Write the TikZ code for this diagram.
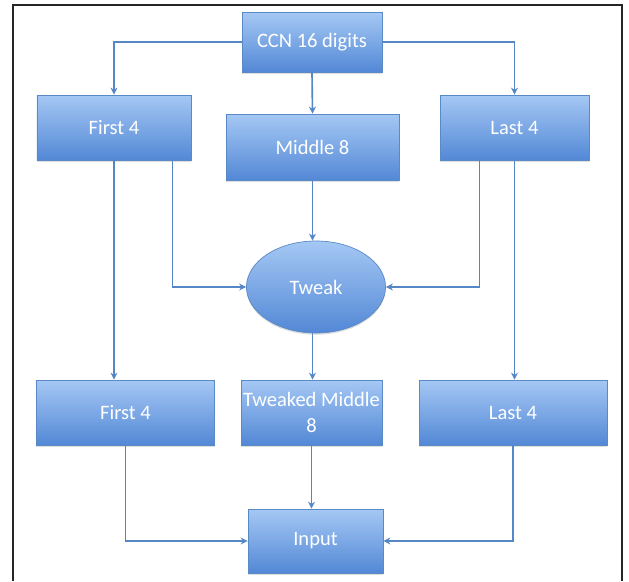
\documentclass[tikz,border=0pt]{standalone}
\usepackage{fontspec}
\setmainfont{Carlito}
\usetikzlibrary{shapes.geometric,arrows.meta,shadows}
\definecolor{boxtop}{HTML}{A5C8F4}
\definecolor{boxbot}{HTML}{5388D6}
\definecolor{boxline}{HTML}{5A8AC6}
\definecolor{arr}{HTML}{5586C6}
\begin{document}
\begin{tikzpicture}[x=0.03cm,y=-0.03cm,
  blk/.style={draw=boxline, line width=0.6pt, top color=boxtop, bottom color=boxbot,
    text=white, font=\fontsize{17.5}{22}\selectfont, align=center, inner sep=0pt,
    drop shadow={shadow xshift=0pt, shadow yshift=-1.5pt, opacity=0.25}},
  conn/.style={draw=arr, line width=1.4pt, -{Stealth[length=6pt,width=6pt]}}]
\useasboundingbox (0,0) rectangle (629,581);
\fill[white] (0,0) rectangle (629,581);
\draw[black!85, line width=1.6pt] (13,581) -- (13,5) -- (622,5) -- (622,581);

\node[blk, minimum width=4.2cm, minimum height=1.8cm] (ccn) at (312,42) {CCN 16 digits};
\node[blk, minimum width=4.62cm, minimum height=1.95cm] (f1) at (114,127.5) {First 4};
\node[blk, minimum width=5.19cm, minimum height=1.98cm] (m8) at (312.5,147) {Middle 8};
\node[blk, minimum width=4.47cm, minimum height=1.95cm] (l1) at (514.5,127.5) {Last 4};
\node[blk, ellipse, minimum width=4.17cm, minimum height=2.76cm] (tw) at (316,287) {Tweak};
\node[blk, minimum width=5.34cm, minimum height=1.95cm] (f1b) at (125.5,412.5) {First 4};
\node[blk, minimum width=4.23cm, minimum height=1.95cm] (tm) at (311.5,412.5) {Tweaked Middle\\8};
\node[blk, minimum width=5.64cm, minimum height=1.95cm] (l1b) at (513,412.5) {Last 4};
\node[blk, minimum width=4.05cm, minimum height=1.92cm] (inp) at (315.5,541) {Input};

\draw[conn] (ccn.west) -| (f1.north);
\draw[conn] (ccn.east) -| (l1.north);
\draw[conn] (ccn.south) -- (m8.north);
\draw[conn] (m8.south) -- (m8.south |- tw.north);
\draw[conn] ([xshift=-0.57cm]f1.south east) |- (tw.west);
\draw[conn] ([xshift=1.2cm]l1.south west) |- (tw.east);
\draw[conn] (f1.south) -- (f1.south |- f1b.north);
\draw[conn] (l1.south) -- (l1.south |- l1b.north);
\draw[conn] (m8.south |- tw.south) -- (m8.south |- tm.north);
\draw[conn] (f1b.south) |- (inp.west);
\draw[conn] (l1b.south) |- (inp.east);
\draw[conn] (tm.south) -- (tm.south |- inp.north);
\end{tikzpicture}
\end{document}
